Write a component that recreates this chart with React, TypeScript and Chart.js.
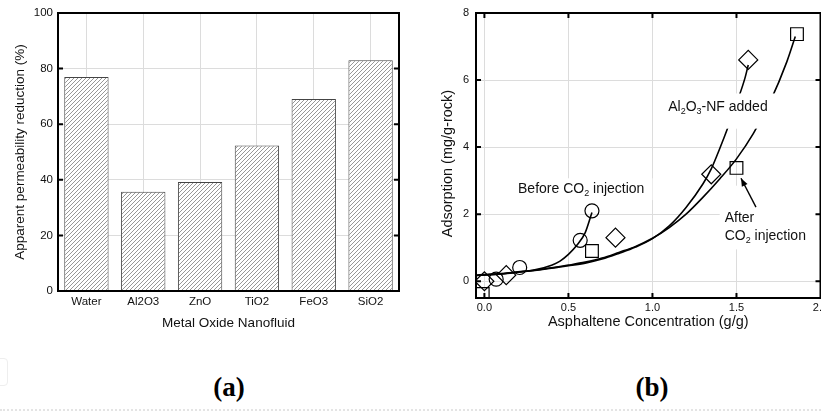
import React, { useEffect, useRef } from "react";
import { Chart, registerables } from "chart.js";

Chart.register(...registerables);

// ---------- Panel (a) data ----------
const barCategories = ["Water", "Al2O3", "ZnO", "TiO2", "FeO3", "SiO2"];
const barValues = [77, 35.7, 39.2, 52.3, 69.1, 83];
const barYTicks = [0, 20, 40, 60, 80, 100];
const barInnerTicks = [20, 40, 60, 80];

// ---------- Panel (b) data ----------
const xTicksB = [0, 0.5, 1, 1.5, 2];
const yTicksB = [0, 2, 4, 6, 8];
const xInnerTicksB = [0, 0.5, 1, 1.5];
const yInnerTicksB = [0, 2, 4, 6];

const beforeCurveX = [-0.05, 0.1, 0.2, 0.3, 0.4, 0.45, 0.5, 0.55, 0.6, 0.64];
const beforeCurveY = [0.17, 0.22, 0.27, 0.34, 0.48, 0.6, 0.8, 1.07, 1.45, 2.05];

const nfCurveX = [-0.05, 0.1, 0.2, 0.3, 0.4, 0.5, 0.6, 0.7, 0.8, 0.9, 1.0, 1.1, 1.2, 1.3, 1.35, 1.4, 1.45, 1.5, 1.55, 1.57];
const nfCurveY = [0.17, 0.22, 0.27, 0.32, 0.39, 0.46, 0.54, 0.66, 0.83, 1.02, 1.27, 1.65, 2.2, 2.9, 3.35, 3.95, 4.6, 5.3, 6.05, 6.45];

const afterCurveX = [-0.05, 0.1, 0.2, 0.3, 0.4, 0.5, 0.6, 0.7, 0.8, 0.9, 1.0, 1.1, 1.2, 1.3, 1.4, 1.5, 1.6, 1.7, 1.8, 1.85];
const afterCurveY = [0.18, 0.23, 0.28, 0.33, 0.4, 0.48, 0.57, 0.69, 0.86, 1.04, 1.28, 1.6, 2.0, 2.5, 3.05, 3.65, 4.4, 5.35, 6.55, 7.3];

const circleX = [0.07, 0.21, 0.57, 0.64];
const circleY = [0.06, 0.41, 1.22, 2.1];
const squareX = [-0.01, 0.64, 1.5, 1.86];
const squareY = [-0.38, 0.9, 3.38, 7.37];
const diamondX = [0, 0.13, 0.78, 1.35, 1.57];
const diamondY = [0, 0.18, 1.3, 3.19, 6.6];

type Part = [string, boolean];
const bLabels: { x: number; y: number; parts: Part[] }[] = [
  { x: 0.2, y: 2.75, parts: [["Before CO", false], ["2", true], [" injection", false]] },
  { x: 1.094, y: 5.2, parts: [["Al", false], ["2", true], ["O", false], ["3", true], ["-NF added", false]] },
  { x: 1.43, y: 1.87, parts: [["After", false]] },
  { x: 1.43, y: 1.34, parts: [["CO", false], ["2", true], [" injection", false]] },
];
const bMasks = [
  { x0: 0.17, x1: 1.0, y0: 2.42, y1: 3.07 },
  { x0: 1.07, x1: 1.74, y0: 4.55, y1: 5.6 },
  { x0: 1.4, x1: 1.97, y0: 0.95, y1: 2.85 },
];
const bArrow = { x0: 1.616, y0: 2.21, x1: 1.527, y1: 3.07 };

const SANS = "'Liberation Sans', Arial, Helvetica, sans-serif";
const GRID = "#dcdcdc";
const INK = "#111";

const zip = (xs: number[], ys: number[]) => xs.map((x, i) => ({ x, y: ys[i] }));

function makeHatch(): CanvasPattern | string {
  const c = document.createElement("canvas");
  c.width = 4;
  c.height = 4;
  const g = c.getContext("2d");
  if (!g) return "#ccc";
  g.fillStyle = "#fff";
  g.fillRect(0, 0, 4, 4);
  g.strokeStyle = "#7c7c7c";
  g.lineWidth = 0.8;
  g.beginPath();
  g.moveTo(0, 4);
  g.lineTo(4, 0);
  g.moveTo(-1, 1);
  g.lineTo(1, -1);
  g.moveTo(3, 5);
  g.lineTo(5, 3);
  g.stroke();
  return g.createPattern(c, "repeat") || "#ccc";
}

const frameA = {
  id: "frameA",
  afterDraw(chart: any) {
    const { ctx, chartArea, scales } = chart;
    const { left, top, right, bottom } = chartArea;
    ctx.save();
    ctx.strokeStyle = "#000";
    ctx.lineWidth = 2;
    ctx.beginPath();
    for (const v of barInnerTicks) {
      const y = scales.y.getPixelForValue(v);
      ctx.moveTo(left, y);
      ctx.lineTo(left + 5, y);
      ctx.moveTo(right - 5, y);
      ctx.lineTo(right, y);
    }
    ctx.stroke();
    ctx.strokeRect(left, top, right - left, bottom - top);
    ctx.restore();
  },
};

function drawRich(ctx: CanvasRenderingContext2D, parts: Part[], x: number, y: number, size: number) {
  let cx = x;
  for (const [t, sub] of parts) {
    const s = sub ? size * 0.64 : size;
    ctx.font = `${s}px ${SANS}`;
    ctx.fillText(t, cx, sub ? y + size * 0.3 : y);
    cx += ctx.measureText(t).width;
  }
}

const annotB = {
  id: "annotB",
  afterDatasetsDraw(chart: any) {
    const { ctx, scales } = chart;
    const X = (v: number) => scales.x.getPixelForValue(v);
    const Y = (v: number) => scales.y.getPixelForValue(v);
    ctx.save();
    ctx.fillStyle = "#fff";
    for (const m of bMasks) {
      const x0 = X(m.x0), x1 = X(m.x1), y0 = Y(m.y0), y1 = Y(m.y1);
      ctx.fillRect(x0, y1, x1 - x0, y0 - y1);
    }
    ctx.fillStyle = INK;
    ctx.textBaseline = "middle";
    ctx.textAlign = "left";
    for (const l of bLabels) drawRich(ctx, l.parts, X(l.x), Y(l.y), 14);
    // arrow
    const ax0 = X(bArrow.x0), ay0 = Y(bArrow.y0), ax1 = X(bArrow.x1), ay1 = Y(bArrow.y1);
    ctx.strokeStyle = "#000";
    ctx.lineWidth = 1.4;
    ctx.beginPath();
    ctx.moveTo(ax0, ay0);
    ctx.lineTo(ax1, ay1);
    ctx.stroke();
    const ang = Math.atan2(ay1 - ay0, ax1 - ax0);
    const L = 8, W = 3.2;
    ctx.fillStyle = "#000";
    ctx.beginPath();
    ctx.moveTo(ax1, ay1);
    ctx.lineTo(ax1 - L * Math.cos(ang) + W * Math.sin(ang), ay1 - L * Math.sin(ang) - W * Math.cos(ang));
    ctx.lineTo(ax1 - L * Math.cos(ang) - W * Math.sin(ang), ay1 - L * Math.sin(ang) + W * Math.cos(ang));
    ctx.closePath();
    ctx.fill();
    ctx.restore();
  },
  afterDraw(chart: any) {
    const { ctx, chartArea, scales } = chart;
    const { left, top, right, bottom } = chartArea;
    ctx.save();
    ctx.strokeStyle = "#000";
    ctx.lineWidth = 2;
    ctx.beginPath();
    for (const v of xInnerTicksB) {
      const x = scales.x.getPixelForValue(v);
      ctx.moveTo(x, bottom);
      ctx.lineTo(x, bottom - 5);
      ctx.moveTo(x, top);
      ctx.lineTo(x, top + 5);
    }
    for (const v of yInnerTicksB) {
      const y = scales.y.getPixelForValue(v);
      ctx.moveTo(left, y);
      ctx.lineTo(left + 5, y);
      ctx.moveTo(right - 5, y);
      ctx.lineTo(right, y);
    }
    ctx.stroke();
    ctx.strokeRect(left, top, right - left, bottom - top);
    ctx.restore();
  },
};

function PanelA() {
  const ref = useRef<HTMLCanvasElement>(null);
  useEffect(() => {
    if (!ref.current) return;
    const hatch = makeHatch();
    const chart = new Chart(ref.current, {
      type: "bar",
      data: {
        labels: barCategories,
        datasets: [
          {
            data: barValues,
            backgroundColor: hatch as any,
            borderColor: "#444",
            borderWidth: 1,
            barPercentage: 0.78,
            categoryPercentage: 1,
          },
        ],
      },
      options: {
        animation: false,
        responsive: false,
        maintainAspectRatio: false,
        devicePixelRatio: 1,
        layout: { padding: { left: 0, top: 13, right: 11, bottom: 0 } },
        plugins: { legend: { display: false }, tooltip: { enabled: false } },
        scales: {
          x: {
            grid: { offset: false, color: GRID, drawTicks: false },
            border: { display: false },
            ticks: { padding: 4, color: INK, font: { family: SANS, size: 11.5 } },
            title: {
              display: true,
              text: "Metal Oxide Nanofluid",
              color: INK,
              font: { family: SANS, size: 13.5 },
              padding: { top: 0, bottom: 14 },
            },
            afterFit: (s: any) => {
              s.height = 54;
              s.paddingLeft = 0;
              s.paddingRight = 0;
            },
          },
          y: {
            min: 0,
            max: 100,
            afterBuildTicks: (s: any) => {
              s.ticks = barYTicks.map((v) => ({ value: v }));
            },
            grid: { color: GRID, drawTicks: false },
            border: { display: false },
            ticks: { padding: 5, color: INK, font: { family: SANS, size: 11.5 } },
            title: {
              display: true,
              text: "Apparent permeability reduction (%)",
              color: INK,
              font: { family: SANS, size: 13.5 },
              padding: { top: 12, bottom: 0 },
            },
            afterFit: (s: any) => {
              s.width = 58;
              s.paddingTop = 0;
              s.paddingBottom = 0;
            },
          },
        },
      } as any,
      plugins: [frameA],
    });
    return () => chart.destroy();
  }, []);
  return (
    <canvas
      ref={ref}
      width={410}
      height={345}
      style={{ position: "absolute", left: 0, top: 0, width: 410, height: 345 }}
    />
  );
}

function PanelB() {
  const ref = useRef<HTMLCanvasElement>(null);
  useEffect(() => {
    if (!ref.current) return;
    const curve = (xs: number[], ys: number[]) => ({
      data: zip(xs, ys),
      showLine: true,
      pointRadius: 0,
      borderColor: "#000",
      borderWidth: 1.6,
      cubicInterpolationMode: "monotone",
      fill: false,
    });
    const markers = (xs: number[], ys: number[], style: string, r: number) => ({
      data: zip(xs, ys),
      showLine: false,
      pointStyle: style,
      pointRadius: r,
      pointBorderColor: "#000",
      pointBackgroundColor: "rgba(0,0,0,0)",
      pointBorderWidth: 1.2,
    });
    const chart = new Chart(ref.current, {
      type: "scatter",
      data: {
        datasets: [
          curve(beforeCurveX, beforeCurveY),
          curve(nfCurveX, nfCurveY),
          curve(afterCurveX, afterCurveY),
          markers(circleX, circleY, "circle", 7),
          markers(squareX, squareY, "rect", 9),
          markers(diamondX, diamondY, "rectRot", 9.5),
        ] as any,
      },
      options: {
        animation: false,
        responsive: false,
        maintainAspectRatio: false,
        devicePixelRatio: 1,
        layout: { padding: { left: 0, top: 13, right: 19.5, bottom: 0 } },
        plugins: { legend: { display: false }, tooltip: { enabled: false } },
        scales: {
          x: {
            type: "linear",
            min: -0.05,
            max: 2,
            afterBuildTicks: (s: any) => {
              s.ticks = xTicksB.map((v) => ({ value: v }));
            },
            grid: { color: GRID, drawTicks: false },
            border: { display: false },
            ticks: {
              padding: 3,
              color: INK,
              font: { family: SANS, size: 11 },
              callback: (v: any) => Number(v).toFixed(1),
            },
            title: {
              display: true,
              text: "Asphaltene Concentration (g/g)",
              color: INK,
              font: { family: SANS, size: 14.5 },
              padding: { top: 0, bottom: 14 },
            },
            afterFit: (s: any) => {
              s.height = 47;
              s.paddingLeft = 0;
              s.paddingRight = 0;
            },
          },
          y: {
            type: "linear",
            min: -0.5,
            max: 8,
            afterBuildTicks: (s: any) => {
              s.ticks = yTicksB.map((v) => ({ value: v }));
            },
            grid: { color: GRID, drawTicks: false },
            border: { display: false },
            ticks: {
              padding: 7,
              color: INK,
              font: { family: SANS, size: 11 },
              callback: (v: any) => String(Math.round(Number(v))),
            },
            title: {
              display: true,
              text: "Adsorption (mg/g-rock)    ",
              color: INK,
              font: { family: SANS, size: 14.5 },
              padding: { top: 29, bottom: 0 },
            },
            afterFit: (s: any) => {
              s.width = 66;
              s.paddingTop = 0;
              s.paddingBottom = 0;
            },
          },
        },
      } as any,
      plugins: [annotB],
    });
    return () => chart.destroy();
  }, []);
  return (
    <canvas
      ref={ref}
      width={430}
      height={345}
      style={{ position: "absolute", left: 410, top: 0, width: 430, height: 345 }}
    />
  );
}

const panelLabel: React.CSSProperties = {
  position: "absolute",
  top: 371,
  width: 100,
  textAlign: "center",
  fontFamily: "'Liberation Serif', 'Times New Roman', serif",
  fontWeight: "bold",
  fontSize: 27,
  lineHeight: "32px",
  color: "#000",
};

export default function App() {
  return (
    <div
      style={{
        position: "fixed",
        left: 0,
        top: 0,
        width: 821,
        height: 416,
        overflow: "hidden",
        background: "#fff",
      }}
    >
      <PanelA />
      <PanelB />
      <div
        style={{
          position: "absolute",
          left: -8,
          top: 358,
          width: 14,
          height: 26,
          border: "1px solid #eeeeee",
          borderRadius: 4,
        }}
      />
      <div
        style={{
          position: "absolute",
          left: 0,
          top: 409,
          width: 821,
          height: 0,
          borderTop: "2px dotted #e4e4e4",
        }}
      />
      <div style={{ ...panelLabel, left: 179 }}>(a)</div>
      <div style={{ ...panelLabel, left: 602 }}>(b)</div>
    </div>
  );
}
